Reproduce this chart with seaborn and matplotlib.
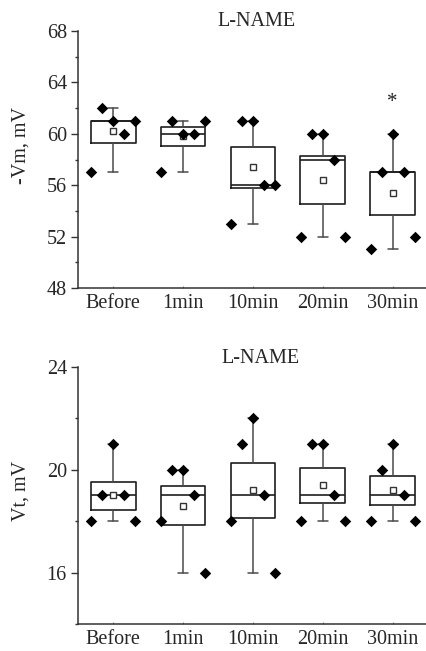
import numpy as np
import pandas as pd
import matplotlib
matplotlib.use("Agg")
import matplotlib.pyplot as plt
import seaborn as sns

categories = ["Before", "1min", "10min", "20min", "30min"]

# individual data points (5 per group, in drawing order left->right)
vm_points = [[57, 62, 61, 60, 61],
             [57, 61, 60, 60, 61],
             [53, 61, 61, 56, 56],
             [52, 60, 60, 58, 52],
             [51, 57, 60, 57, 52]]
vt_points = [[18, 19, 21, 19, 18],
             [18, 20, 20, 19, 16],
             [18, 21, 22, 19, 16],
             [18, 21, 21, 19, 18],
             [18, 20, 21, 19, 18]]

# box statistics
vm_q1 = [59.3, 59.05, 55.8, 54.57, 53.7]
vm_q3 = [61.0, 60.52, 58.97, 58.25, 57.06]
vm_med = [61, 60, 56, 58, 57]
vm_lo = [57, 57, 53, 52, 51]
vm_hi = [62, 61, 61, 60, 60]
vm_mean = [60.2, 59.8, 57.4, 56.4, 55.4]

vt_q1 = [18.44, 17.86, 18.12, 18.71, 18.61]
vt_q3 = [19.53, 19.35, 20.26, 20.08, 19.77]
vt_med = [19, 19, 19, 19, 19]
vt_lo = [18, 16, 16, 18, 18]
vt_hi = [21, 20, 22, 21, 21]
vt_mean = [19.0, 18.6, 19.2, 19.4, 19.2]

title = "L-NAME"
vm_label = "-Vm, mV"
vt_label = "Vt, mV"
sig_group = 4
sig_value = 62.4

sns.set_style("ticks")
plt.rcParams['font.family'] = ['Liberation Serif', 'DejaVu Serif']
plt.rcParams['font.size'] = 14.5

W, H = 426, 651
fig = plt.figure(figsize=(W / 100, H / 100), dpi=100)

def px_axes(left, top, right, bottom):
    return fig.add_axes([left / W, 1 - bottom / H, (right - left) / W, (bottom - top) / H])

ax1 = px_axes(78.3, 31, 427.6, 288)
ax2 = px_axes(78.3, 366.7, 427.6, 624)

offsets = np.linspace(-0.315, 0.315, 5)
box_col = "#1e1e1e"
whisk_col = "#4a4a4a"

def draw_panel(ax, points, q1, q3, med, lo, hi, mean, ylim, major, minor):
    stats = []
    for i in range(len(categories)):
        stats.append(dict(med=med[i], q1=q1[i], q3=q3[i], whislo=lo[i],
                          whishi=hi[i], mean=mean[i], fliers=[], label=categories[i]))
    ax.bxp(stats, positions=range(len(categories)), widths=0.64, capwidths=0.14,
           showmeans=True, showfliers=False, patch_artist=False,
           boxprops=dict(color=box_col, linewidth=1.2),
           medianprops=dict(color=box_col, linewidth=1.2),
           whiskerprops=dict(color=whisk_col, linewidth=1.1),
           capprops=dict(color=whisk_col, linewidth=1.1),
           meanprops=dict(marker='s', markerfacecolor='white', markeredgecolor='#333333',
                          markersize=5, markeredgewidth=1.0),
           manage_ticks=False)
    rows = []
    for i, grp in enumerate(points):
        for j, v in enumerate(grp):
            rows.append(dict(x=i + offsets[j], y=v))
    df = pd.DataFrame(rows)
    sns.scatterplot(data=df, x="x", y="y", ax=ax, marker='D', s=34,
                    color='black', edgecolor='black', linewidth=0, zorder=5)
    ax.set_xlim(-0.5, 4.5)
    ax.set_ylim(*ylim)
    ax.set_xticks(range(len(categories)))
    ax.set_xticklabels(categories)
    ax.set_yticks(major)
    ax.set_yticks(minor, minor=True)
    ax.set_xlabel("")
    ax.set_ylabel("")
    for s in ["top", "right"]:
        ax.spines[s].set_visible(False)
    for s in ["left", "bottom"]:
        ax.spines[s].set_color("#333333")
        ax.spines[s].set_linewidth(1.1)
    ax.tick_params(axis='y', which='major', direction='out', length=4.7, width=1,
                   color='#333333', pad=3.5, labelsize=14.5)
    ax.tick_params(axis='y', which='minor', direction='out', length=2.5, width=1,
                   color='#333333')
    ax.tick_params(axis='x', which='major', direction='in', length=1.5, width=0.8,
                   color='#888888', pad=4, labelsize=14.5)

draw_panel(ax1, vm_points, vm_q1, vm_q3, vm_med, vm_lo, vm_hi, vm_mean,
           (48, 68), np.arange(48, 69, 4), np.arange(50, 68, 4))
draw_panel(ax2, vt_points, vt_q1, vt_q3, vt_med, vt_lo, vt_hi, vt_mean,
           (14, 24), [16, 20, 24], [14, 18, 22])

ax1.text(sig_group, sig_value, "*", ha='center', va='center', fontsize=15, color='#222222')

fig.text(256.7 / W, 1 - 25.7 / H, title, ha='center', va='baseline', fontsize=14.5)
fig.text(260 / W, 1 - 363.3 / H, title, ha='center', va='baseline', fontsize=14.5)
fig.text(21.5 / W, 1 - 146 / H, vm_label, ha='center', va='center', rotation=90, fontsize=14.5)
fig.text(21.5 / W, 1 - 491 / H, vt_label, ha='center', va='center', rotation=90, fontsize=14.5)

fig.savefig("out.png", dpi=100)
